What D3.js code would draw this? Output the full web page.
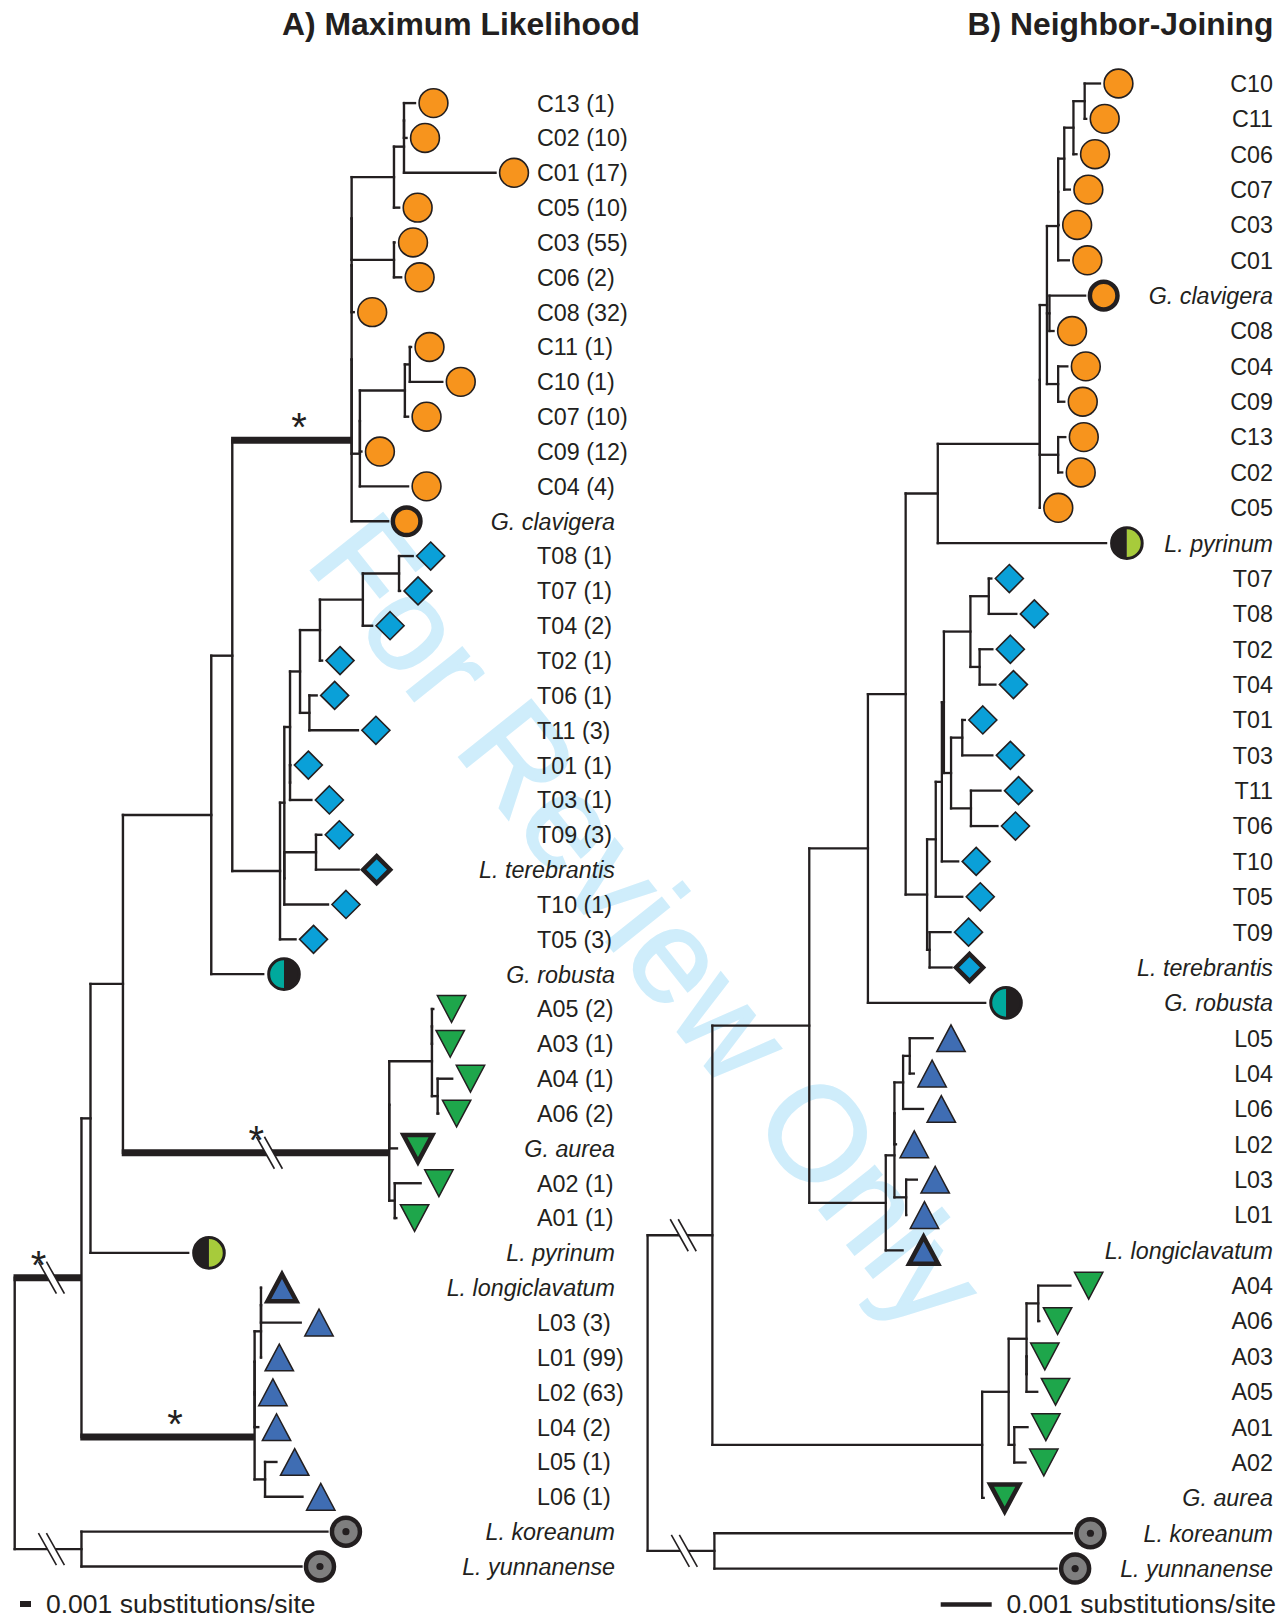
<!DOCTYPE html>
<html>
<head>
<meta charset="utf-8">
<title>ML and NJ trees</title>
<script src="https://cdn.jsdelivr.net/npm/d3@7/dist/d3.min.js"></script>
<style>
  body { margin: 0; background: #fff; }
  svg { display: block; font-family: "Liberation Sans", Arial, Helvetica, sans-serif; }
</style>
</head>
<body>
<svg id="mainSVG" width="1286" height="1617"></svg>
<script>
// branch lengths are in units of 0.001 substitutions/site
// [node, parent, branch length]
var mlEdges = [
  ["root", "", 0],
  ["n1", "root", 6.07],
  ["n2", "n1", 0.82],
  ["n3", "n2", 2.95],
  ["n4", "n3", 8.03],
  ["n5", "n4", 1.91],
  ["c0", "n5", 10.85],
  ["cx1", "c0", 0],
  ["cx2", "cx1", 0],
  ["cx3", "cx2", 0],
  ["ca", "cx3", 3.85],
  ["cab", "ca", 0.91],
  ["cab2", "cab", 0],
  ["C13", "cab2", 1.0],
  ["C02", "cab2", 0.23],
  ["C01", "cab", 8.32],
  ["C05", "ca", 0.47],
  ["cb", "cx3", 3.85],
  ["C03", "cb", 0.05],
  ["C06", "cb", 0.65],
  ["C08", "cx2", 0.19],
  ["cc", "cx1", 0.75],
  ["cc2", "cc", 0],
  ["cd", "cc2", 4.09],
  ["ce", "cd", 0.45],
  ["C11", "ce", 0.11],
  ["C10", "ce", 2.95],
  ["C07", "cd", 0.29],
  ["C09", "cc2", 0.14],
  ["C04", "cc", 4.38],
  ["G. clavigera", "c0", 3.32],
  ["t0", "n5", 4.34],
  ["tb", "t0", 0.39],
  ["tc", "tb", 0.52],
  ["td", "tc", 0.91],
  ["te", "td", 1.81],
  ["tf", "te", 3.9],
  ["tg", "tf", 3.29],
  ["T08", "tg", 1.24],
  ["T07", "tg", 0.09],
  ["T04", "tf", 0.84],
  ["T02", "te", 0.19],
  ["th", "td", 0.85],
  ["T06", "th", 0.66],
  ["T11", "th", 4.41],
  ["tk", "tc", 0],
  ["T01", "tk", 0.03],
  ["T03", "tk", 1.94],
  ["tj", "tb", 0],
  ["ti", "tj", 2.88],
  ["T09", "ti", 0.48],
  ["L. terebrantis", "ti", 3.88],
  ["T10", "tj", 3.97],
  ["T05", "t0", 1.41],
  ["G. robusta", "n4", 4.72],
  ["na", "n3", 24.21],
  ["naa", "na", 0],
  ["aa", "naa", 3.88],
  ["aa2", "aa", 0],
  ["A05", "aa2", 0.12],
  ["A03", "aa2", 0],
  ["ab", "aa", 0.52],
  ["A04", "ab", 1.32],
  ["A06", "ab", 0.06],
  ["G. aurea", "naa", 0.7],
  ["ac", "na", 0.5],
  ["A02", "ac", 2.35],
  ["A01", "ac", 0.14],
  ["L. pyrinum", "n2", 8.88],
  ["nl", "n1", 15.74],
  ["nla", "nl", 0],
  ["nlb", "nla", 0],
  ["la", "nlb", 0.58],
  ["la2", "la", 0],
  ["L. longiclavatum", "la2", 0],
  ["L03", "la2", 3.61],
  ["L01", "la", 0],
  ["L02", "nlb", 0],
  ["L04", "nla", 0.33],
  ["lb", "nl", 0.95],
  ["L05", "lb", 1.03],
  ["L06", "lb", 3.4],
  ["og", "root", 6.07],
  ["L. koreanum", "og", 22.36],
  ["L. yunnanense", "og", 20.0]
];

var njEdges = [
  ["root", "", 0],
  ["m1", "root", 1.27],
  ["m2", "m1", 1.9],
  ["m3", "m2", 1.15],
  ["m4", "m3", 0.74],
  ["m5", "m4", 0.63],
  ["cc0", "m5", 2.0],
  ["ccx", "cc0", 0],
  ["cca", "ccx", 0.14],
  ["cce", "cca", 0.22],
  ["cce2", "cce", 0],
  ["ccf", "cce2", 0.12],
  ["ccg", "ccf", 0.18],
  ["cch", "ccg", 0.22],
  ["C10", "cch", 0.3],
  ["C11", "cch", 0.03],
  ["C06", "ccg", 0.06],
  ["C07", "ccf", 0.11],
  ["C03", "cce2", 0.01],
  ["C01", "cce", 0.21],
  ["ccgc", "cca", 0.05],
  ["G. clavigera", "ccgc", 0.7],
  ["C08", "ccgc", 0.08],
  ["ccc", "cca", 0.22],
  ["C04", "ccc", 0.18],
  ["C09", "ccc", 0.12],
  ["ccd", "ccx", 0.36],
  ["C13", "ccd", 0.14],
  ["C02", "ccd", 0.08],
  ["C05", "cc0", 0],
  ["L. pyrinum", "m5", 3.3],
  ["ta", "m4", 0.42],
  ["tb", "ta", 0.17],
  ["tc", "tb", 0.12],
  ["td", "tc", 0.04],
  ["tt1", "td", 0.52],
  ["tt2", "tt1", 0.36],
  ["T07", "tt2", 0.05],
  ["T08", "tt2", 0.54],
  ["tt3", "tt1", 0.18],
  ["T02", "tt3", 0.25],
  ["T04", "tt3", 0.31],
  ["tt4", "td", 0.14],
  ["tt5", "tt4", 0.22],
  ["T01", "tt5", 0.05],
  ["T03", "tt5", 0.59],
  ["tt6", "tt4", 0.39],
  ["T11", "tt6", 0.58],
  ["T06", "tt6", 0.52],
  ["T10", "tc", 0.32],
  ["T05", "tb", 0.52],
  ["tt9", "ta", 0.05],
  ["T09", "tt9", 0.41],
  ["L. terebrantis", "tt9", 0.43],
  ["G. robusta", "m3", 2.3],
  ["lc", "m2", 1.5],
  ["ll1", "lc", 0.17],
  ["ll1a", "ll1", 0],
  ["ll2", "ll1a", 0.17],
  ["ll3", "ll2", 0.13],
  ["L05", "ll3", 0.45],
  ["L04", "ll3", 0.08],
  ["L06", "ll2", 0.39],
  ["L02", "ll1a", 0.03],
  ["ll4", "ll1", 0.23],
  ["L03", "ll4", 0.21],
  ["L01", "ll4", 0],
  ["L. longiclavatum", "lc", 0.33],
  ["ma", "m1", 5.29],
  ["aa1", "ma", 0.52],
  ["aa2", "aa1", 0.35],
  ["aa3", "aa2", 0.23],
  ["A04", "aa3", 0.63],
  ["A06", "aa3", 0.02],
  ["aa5", "aa2", 0],
  ["A03", "aa5", 0],
  ["A05", "aa5", 0.21],
  ["aa4", "aa1", 0.11],
  ["A01", "aa4", 0.26],
  ["A02", "aa4", 0.22],
  ["G. aurea", "ma", 0.03],
  ["og", "root", 1.31],
  ["L. koreanum", "og", 7.01],
  ["L. yunnanense", "og", 6.71]
];

// number of isolates per haplotype (ML labels)
var haplotypeCounts = [
  ["C13", 1], ["C02", 10], ["C01", 17], ["C05", 10], ["C03", 55], ["C06", 2],
  ["C08", 32], ["C11", 1], ["C10", 1], ["C07", 10], ["C09", 12], ["C04", 4],
  ["T08", 1], ["T07", 1], ["T04", 2], ["T02", 1], ["T06", 1], ["T11", 3],
  ["T01", 1], ["T03", 1], ["T09", 3], ["T10", 1], ["T05", 3],
  ["A05", 2], ["A03", 1], ["A04", 1], ["A06", 2], ["A02", 1], ["A01", 1],
  ["L03", 3], ["L01", 99], ["L02", 63], ["L04", 2], ["L05", 1], ["L06", 1]
];

// supported (thick, starred) and shortened (//) branches
var mlSupported = ["n1", "c0", "na", "nl"];
var mlBroken = ["n1", "na", "og"];
var njBroken = ["m1", "og"];

// symbols: haplotype prefix, and the reference taxa (drawn bold)
var haplotypeSymbols = [["C", "circle"], ["T", "diamond"], ["A", "down"], ["L", "up"]];
var referenceTaxa = [
  ["G. clavigera", "circle"],
  ["L. terebrantis", "diamond"],
  ["G. aurea", "down"],
  ["L. longiclavatum", "up"],
  ["G. robusta", "halfTeal"],
  ["L. pyrinum", "halfLime"],
  ["L. koreanum", "ring"],
  ["L. yunnanense", "ring"]
];

var panelTitles = ["A) Maximum Likelihood", "B) Neighbor-Joining"];
var scaleLabel = "0.001 substitutions/site";
var watermark = "For Review Only";

var ink = "#231f20";
var symbolStyle = {
  circle:   { fill: "#f7941d", off: 18.5 },
  diamond:  { fill: "#0aa0d8", off: 18 },
  down:     { fill: "#1ea64b", off: 18.3 },
  up:       { fill: "#3f6db3", off: 18.3 },
  halfTeal: { fill: "#00a99d", off: 20.8 },
  halfLime: { fill: "#a7cb3b", off: 20.8 },
  ring:     { fill: "#7f7f7f", off: 18.5 }
};

var svg = d3.select("#mainSVG");

// watermark sits under everything
svg.append("text")
  .attr("transform", "translate(304,562) rotate(51.5)")
  .attr("font-size", 134)
  .attr("fill", "#cfedfb")
  .attr("stroke", "#cfedfb")
  .attr("stroke-width", 2)
  .text(watermark);

function symbolOf(id) {
  var ref = referenceTaxa.filter(function(r) { return r[0] === id; })[0];
  if (ref) return { shape: ref[1], bold: true };
  var hs = haplotypeSymbols.filter(function(h) { return h[0] === id.charAt(0); })[0];
  return { shape: hs[1], bold: false };
}

function drawMarker(g, sym, cx, cy) {
  var st = symbolStyle[sym.shape];
  var m = g.append("g").attr("transform", "translate(" + cx + "," + cy + ")");
  var sw = sym.bold ? 4.5 : 1.6;
  if (sym.shape === "circle") {
    m.append("circle").attr("r", sym.bold ? 13.8 : 14.4)
      .attr("fill", st.fill).attr("stroke", ink).attr("stroke-width", sw);
  } else if (sym.shape === "diamond") {
    var s = sym.bold ? 13.5 : 14;
    m.append("path").attr("d", "M0," + (-s) + "L" + s + ",0L0," + s + "L" + (-s) + ",0Z")
      .attr("fill", st.fill).attr("stroke", ink).attr("stroke-width", sw)
      .attr("stroke-linejoin", "miter");
  } else if (sym.shape === "up" || sym.shape === "down") {
    var w = sym.bold ? 14.5 : 14.2, h = sym.bold ? 13.5 : 13.4;
    var k = sym.shape === "up" ? 1 : -1;
    m.append("path")
      .attr("d", "M0," + (-h * k) + "L" + w + "," + (h * k) + "L" + (-w) + "," + (h * k) + "Z")
      .attr("fill", st.fill).attr("stroke", ink).attr("stroke-width", sym.bold ? 4.5 : 1.5)
      .attr("stroke-linejoin", "miter");
  } else if (sym.shape === "halfTeal" || sym.shape === "halfLime") {
    var r = 15.3;
    var left = sym.shape === "halfTeal" ? st.fill : ink;
    var right = sym.shape === "halfTeal" ? ink : st.fill;
    m.append("path").attr("d", "M0," + (-r) + "A" + r + "," + r + " 0 0 0 0," + r + "Z").attr("fill", left);
    m.append("path").attr("d", "M0," + (-r) + "A" + r + "," + r + " 0 0 1 0," + r + "Z").attr("fill", right);
    m.append("circle").attr("r", r).attr("fill", "none").attr("stroke", ink).attr("stroke-width", 3);
  } else if (sym.shape === "ring") {
    m.append("circle").attr("r", 14).attr("fill", st.fill).attr("stroke", ink).attr("stroke-width", 4.5);
    m.append("circle").attr("r", 3.6).attr("fill", ink);
  }
}

function drawTree(edges, cfg) {
  var root = d3.stratify()
    .id(function(d) { return d[0]; })
    .parentId(function(d) { return d[1]; })(edges);

  root.eachBefore(function(d) {
    d.len = d.parent ? d.parent.len + d.data[2] : 0;
  });

  var x = d3.scaleLinear().domain([0, 1]).range([cfg.x0, cfg.x0 + cfg.unitPx]);
  var y = d3.scalePoint()
    .domain(root.leaves().map(function(d) { return d.id; }))
    .range(cfg.yRange);

  root.eachAfter(function(d) {
    if (d.children) {
      d.yy = (d.children[0].yy + d.children[d.children.length - 1].yy) / 2;
    } else {
      d.yy = y(d.id);
    }
  });

  var g = svg.append("g").attr("id", cfg.id);
  var thick = cfg.supported || [];

  // vertical connectors
  g.selectAll("line.v")
    .data(root.descendants().filter(function(d) { return d.children; }))
    .enter().append("line")
    .attr("class", "v")
    .attr("x1", function(d) { return x(d.len); })
    .attr("x2", function(d) { return x(d.len); })
    .attr("y1", function(d) { return d.children[0].yy; })
    .attr("y2", function(d) { return d.children[d.children.length - 1].yy; })
    .attr("stroke", ink)
    .attr("stroke-width", cfg.lineW)
    .attr("stroke-linecap", "square");

  // horizontal branches
  g.selectAll("line.h")
    .data(root.descendants().slice(1))
    .enter().append("line")
    .attr("class", "h")
    .attr("x1", function(d) {
      return thick.indexOf(d.id) >= 0 ? x(d.parent.len) - cfg.lineW / 2 : x(d.parent.len);
    })
    .attr("x2", function(d) { return x(d.len); })
    .attr("y1", function(d) { return d.yy; })
    .attr("y2", function(d) { return d.yy; })
    .attr("stroke", ink)
    .attr("stroke-width", function(d) { return thick.indexOf(d.id) >= 0 ? 7 : cfg.lineW; })
    .attr("stroke-linecap", function(d) { return thick.indexOf(d.id) >= 0 ? "butt" : "square"; });

  function nodeById(id) {
    return root.descendants().filter(function(d) { return d.id === id; })[0];
  }
  function breakX(d) {
    return x(d.parent.len) + 0.55 * (x(d.len) - x(d.parent.len));
  }

  // shortened branches
  cfg.broken.forEach(function(id) {
    var d = nodeById(id), bx = breakX(d), by = d.yy;
    var a = bx - 4, b = bx + 4;
    g.append("path")
      .attr("d", "M" + (a - 9) + "," + (by - 16) + "L" + (b - 9) + "," + (by - 16) +
        "L" + (b + 9) + "," + (by + 16) + "L" + (a + 9) + "," + (by + 16) + "Z")
      .attr("fill", "#fff");
    [a, b].forEach(function(cx) {
      g.append("line")
        .attr("x1", cx - 9).attr("y1", by - 16)
        .attr("x2", cx + 9).attr("y2", by + 16)
        .attr("stroke", ink).attr("stroke-width", 1.6);
    });
  });

  // support stars
  thick.forEach(function(id) {
    var d = nodeById(id);
    var sx = cfg.broken.indexOf(id) >= 0 ? breakX(d) - 13 : (x(d.parent.len) + x(d.len)) / 2 + 7;
    g.append("text")
      .attr("x", sx).attr("y", d.yy + 1)
      .attr("text-anchor", "middle")
      .attr("font-size", 40)
      .attr("fill", ink)
      .text("*");
  });

  // tip symbols and labels
  root.leaves().forEach(function(d) {
    var sym = symbolOf(d.id);
    var off = symbolStyle[sym.shape].off;
    if (sym.bold && (sym.shape === "up" || sym.shape === "down")) off = 21;
    drawMarker(g, sym, x(d.len) + off, d.yy);

    var italic = d.id.indexOf(". ") > 0;
    var txt = d.id;
    if (cfg.counts && !italic) {
      var c = cfg.counts.filter(function(h) { return h[0] === d.id; })[0];
      txt = d.id + " (" + c[1] + ")";
    }
    var lx = cfg.labelX;
    var anchor = "end";
    if (cfg.counts) {
      lx = italic ? cfg.italicX : cfg.labelX;
      anchor = italic ? "end" : "start";
    }
    g.append("text")
      .attr("x", lx)
      .attr("y", d.yy + 8.4)
      .attr("text-anchor", anchor)
      .attr("font-size", 23.3)
      .attr("font-style", italic ? "italic" : "normal")
      .attr("fill", ink)
      .text(txt);
  });

  // scale bar: one unit of branch length
  g.append("line")
    .attr("x1", cfg.barX).attr("x2", cfg.barX + (x(1) - x(0)))
    .attr("y1", cfg.barY).attr("y2", cfg.barY)
    .attr("stroke", ink).attr("stroke-width", cfg.barW);
  g.append("text")
    .attr("x", cfg.barTextX).attr("y", 1612.5)
    .attr("font-size", 26.5)
    .attr("fill", ink)
    .text(scaleLabel);

  // panel title
  g.append("text")
    .attr("x", cfg.titleX).attr("y", 35)
    .attr("font-size", 30.5)
    .attr("font-weight", "bold")
    .attr("fill", ink)
    .attr("textLength", cfg.titleW)
    .attr("lengthAdjust", "spacingAndGlyphs")
    .text(cfg.title);
}

drawTree(mlEdges, {
  id: "ml", x0: 14.7, unitPx: 11, yRange: [103.1, 1566.5], lineW: 2.4,
  supported: mlSupported, broken: mlBroken, counts: haplotypeCounts,
  labelX: 537, italicX: 615,
  barX: 20, barY: 1604, barW: 6, barTextX: 46,
  title: panelTitles[0], titleX: 282, titleW: 358
});

drawTree(njEdges, {
  id: "nj", x0: 647.6, unitPx: 51, yRange: [83.5, 1568.6], lineW: 2.3,
  supported: [], broken: njBroken, counts: null,
  labelX: 1273,
  barX: 940.7, barY: 1604.5, barW: 4.5, barTextX: 1006.5,
  title: panelTitles[1], titleX: 967.5, titleW: 306
});
</script>
</body>
</html>
